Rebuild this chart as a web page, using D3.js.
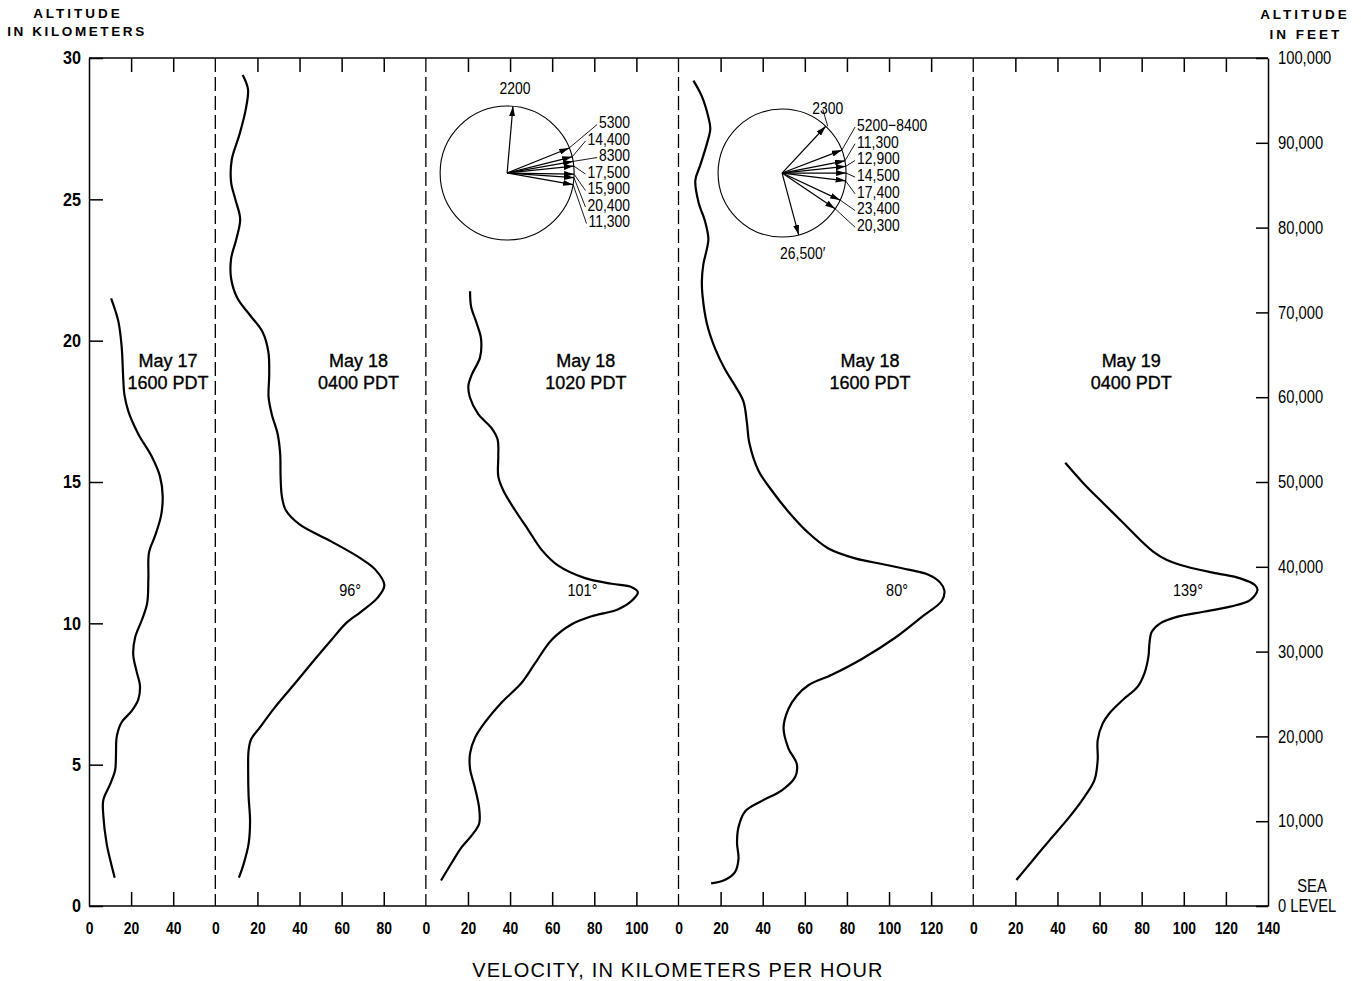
<!DOCTYPE html>
<html>
<head>
<meta charset="utf-8">
<script src="https://cdn.jsdelivr.net/npm/d3@7"></script>
<style>
body { margin: 0; background: #fff; }
text { font-family: "Liberation Sans", Arial, sans-serif; fill: #000; }
</style>
</head>
<body>
<div id="chart-area"></div>
<script>
// velocity range of each panel (km/h), left to right
var panelMax = [60, 100, 120, 140, 140]
var panelTitles = [["May 17", "1600 PDT"], ["May 18", "0400 PDT"], ["May 18", "1020 PDT"],
                   ["May 18", "1600 PDT"], ["May 19", "0400 PDT"]]
var peakDirs = ["", "96°", "101°", "80°", "139°"]
var altTicks = [0, 5, 10, 15, 20, 25, 30]
var feetTicks = [0, 10000, 20000, 30000, 40000, 50000, 60000, 70000, 80000, 90000, 100000]

// profiles: [altitude km, velocity km/h]
var may17_1600 = [[21.5,10.5],[20.7,13.9],[19.8,15.5],[18.6,16.3],[18.1,16.8],[17.5,18.7],[16.7,23.4],
  [15.9,29.8],[15.2,33.7],[14.5,35],[13.8,34.2],[13.1,31.4],[12.5,28.5],[11.6,28.2],[10.7,27.6],[10.1,25],
  [9.5,21.9],[8.9,21],[8.3,22.6],[7.8,24.2],[7.3,23.4],[6.9,20.3],[6.5,15.5],[6,13.2],[5.3,12.8],[4.8,12.4],
  [4.3,10],[3.75,6.8],[3.2,6.8],[2.2,8.4],[1.5,10.5],[1,12.2]]
var may18_0400 = [[29.4,13],[28.9,15.5],[28.2,14.5],[27.3,11.5],[26.4,7.8],[25.6,7.5],[25,9.5],[24.3,11.8],
  [23.6,10],[22.9,7.5],[22.2,7.5],[21.5,10.5],[20.9,16.5],[20.3,22.5],[19.6,25.2],[18.8,25.6],[18,25.3],
  [17.4,26.8],[16.7,29.6],[16,30.8],[15.2,31],[14.5,31.6],[14,33.5],[13.5,40],[12.9,55],[12.3,69],[11.9,76],
  [11.35,80.3],[10.9,77],[10.4,69],[10,62],[9.4,55],[8.7,47],[7.8,37],[7,28],[6.3,21],[5.9,17],[5.5,15.8],
  [4.8,15.6],[3.9,15.8],[3,16.5],[2.2,15.8],[1.5,13.5],[1,11.2]]
var may18_1020 = [[21.75,21],[21.2,21.5],[20.6,24.2],[20.07,26.2],[19.4,25.7],[18.8,21.8],[18.4,20.2],
  [18,20.9],[17.4,24.9],[16.9,31.3],[16.5,34.1],[15.9,34.4],[15.2,34.4],[14.7,36.8],[14,42.4],[13.3,48.7],
  [12.6,55],[12.04,62.9],[11.6,75.6],[11.4,88.3],[11.28,97.8],[11.1,100.7],[10.8,97.8],[10.5,91.4],
  [10.25,78.8],[9.97,69.3],[9.42,59.8],[8.59,51.9],[7.9,45.5],[7.2,36],[6.5,28.1],[5.96,23.4],[5.4,21],
  [4.85,21],[4.16,23.4],[3.47,25.3],[2.91,25.3],[2.5,21.8],[2.09,17.1],[1.53,12.3],[0.9,7.2]]
var may18_1600 = [[29.2,7.1],[28.64,11.1],[27.9,14.2],[27.5,15.1],[26.97,13.5],[26.2,10.3],[25.67,8],
  [24.9,9.5],[24.2,12.7],[23.6,14.2],[23.25,13.5],[22.7,11.8],[22.1,11.1],[21.6,11.4],[20.6,13.5],
  [19.7,17.5],[18.97,22.2],[18.4,26.9],[17.86,30.8],[17.1,32.5],[16.4,33.6],[15.4,38],[14.7,44.3],
  [13.95,52.2],[13.2,61.7],[12.65,71.2],[12.3,83.9],[12.1,96.6],[11.9,109.2],[11.72,118.7],[11.44,124.3],
  [11.16,126.3],[10.8,125.1],[10.23,115.6],[9.49,102.9],[8.74,87.1],[8.18,72.8],[7.81,61.7],[7.44,56.2],
  [6.97,52.2],[6.3,49.9],[5.58,52.2],[5.02,56.2],[4.56,55.4],[4.09,49.1],[3.72,39.6],[3.35,31.7],
  [2.79,28.5],[2.23,27.8],[1.68,28.5],[1.21,26.9],[0.93,22.2],[0.8,15.5]]
var may19_0400 = [[15.68,43.7],[14.95,52.4],[14.24,61.9],[13.54,71.4],[12.95,79.3],[12.53,85.6],
  [12.24,92],[12,101.5],[11.77,115.7],[11.59,126.8],[11.35,133.9],[11.18,135],[10.82,131.5],[10.59,122],
  [10.41,109.4],[10.23,96.7],[10,88.8],[9.7,84.8],[9.29,83.7],[8.82,83.2],[8.23,81.3],[7.76,78.1],
  [7.29,71],[6.82,64.7],[6.46,61.5],[5.87,59.1],[5.16,59.1],[4.46,57.6],[3.87,52.9],[3.16,45.8],
  [2.33,36.3],[1.63,28.4],[0.92,20.5]]
var profiles = [may17_1600, may18_0400, may18_1020, may18_1600, may19_0400]

// wind directions (degrees from north) at altitudes in feet
var rose1Labels = ["2200", "5300", "14,400", "8300", "17,500", "15,900", "20,400", "11,300"]
var rose1Dirs = [5, 68, 76, 80, 84, 91, 94, 100]
var rose2Labels = ["2300", "5200\u22128400", "11,300", "12,900", "14,500", "17,400", "23,400", "20,300", "26,500\u2032"]
var rose2Dirs = [43, 69, 79, 84, 90, 97, 115, 124, 165]

var margin = { left: 89, right: 93, top: 58, bottom: 75 }
var width = 1361 - margin.left - margin.right,
    height = 981 - margin.top - margin.bottom

var offsets = []
panelMax.reduce((acc, m) => { offsets.push(acc); return acc + m }, 0)
var total = d3.sum(panelMax)

// squeeze text horizontally round its anchor (no condensed face installed)
function condense(sel, s) {
    sel.each(function() {
        var t = d3.select(this), x0 = +t.attr("x") || 0
        t.attr("transform", "translate(" + x0 * (1 - s) + ",0) scale(" + s + ",1)")
    })
}

var svg = d3.select("#chart-area").append("svg")
    .attr("width", 1361)
    .attr("height", 981)
svg.append("defs").append("marker")
    .attr("id", "ah")
    .attr("viewBox", "0 0 10 6")
    .attr("refX", 10).attr("refY", 3)
    .attr("markerWidth", 10).attr("markerHeight", 6)
    .attr("markerUnits", "userSpaceOnUse")
    .attr("orient", "auto")
    .append("path").attr("d", "M0,0L10,3L0,6z").attr("fill", "#000")

var g = svg.append("g")
    .attr("transform", "translate(" + margin.left + "," + margin.top + ")")

var x = d3.scaleLinear().domain([0, total]).range([0, width])
var y = d3.scaleLinear().domain([0, 30]).range([height, 0])
var yFeet = d3.scaleLinear().domain([0, 100000]).range([height, 0])

// frame
g.append("line").attr("x1", 0).attr("x2", width).attr("y1", 0).attr("y2", 0)
    .attr("stroke", "#000").attr("stroke-width", 1.5)
g.append("line").attr("x1", 0).attr("x2", width).attr("y1", height).attr("y2", height)
    .attr("stroke", "#000").attr("stroke-width", 1.5)

// panel separators
offsets.slice(1).forEach(o => {
    g.append("line")
        .attr("x1", x(o)).attr("x2", x(o))
        .attr("y1", 0).attr("y2", height)
        .attr("stroke", "#000").attr("stroke-width", 1.3)
        .attr("stroke-dasharray", "14,5")
})

// per-panel velocity axes
panelMax.forEach((m, i) => {
    var ps = d3.scaleLinear().domain([0, m]).range([x(offsets[i]), x(offsets[i] + m)])
    var vals = d3.range(0, m + 1, 20)
    var last = i === panelMax.length - 1
    var bottom = g.append("g")
        .attr("transform", "translate(0," + height + ")")
        .call(d3.axisBottom(ps).tickValues(vals).tickSize(-14).tickSizeOuter(0).tickPadding(16)
            .tickFormat(d => (d === m && !last) ? "" : d))
    bottom.select(".domain").remove()
    bottom.selectAll(".tick line")
        .attr("stroke-width", 1.5)
        .attr("display", d => (d === 0 || d === m) ? "none" : null)
    bottom.selectAll("text")
        .style("font-family", '"Liberation Sans", Arial, sans-serif')
        .style("font-size", "17px").style("font-weight", "bold")
        .call(condense, 0.82)

    var top = g.append("g")
        .call(d3.axisTop(ps).tickValues(vals.filter(d => d > 0 && d < m)).tickSize(-14).tickSizeOuter(0).tickFormat(""))
    top.select(".domain").remove()
    top.selectAll(".tick line").attr("stroke-width", 1.5)
})

// altitude axes
var left = g.append("g")
    .call(d3.axisLeft(y).tickValues(altTicks).tickSize(-14).tickSizeOuter(0).tickPadding(8))
left.select(".domain").attr("stroke-width", 1.5)
left.selectAll(".tick line").attr("stroke-width", 1.5)
left.selectAll("text")
    .style("font-family", '"Liberation Sans", Arial, sans-serif')
    .style("font-size", "18px").style("font-weight", "bold")
    .call(condense, 0.9)

var right = g.append("g")
    .attr("transform", "translate(" + width + ",0)")
    .call(d3.axisRight(yFeet).tickValues(feetTicks).tickSize(-12).tickSizeOuter(0).tickPadding(10)
        .tickFormat(d => d === 0 ? "0 LEVEL" : d3.format(",")(d)))
right.select(".domain").attr("stroke-width", 1.5)
right.selectAll(".tick line").attr("stroke-width", 1.5)
right.selectAll("text")
    .style("font-family", '"Liberation Sans", Arial, sans-serif')
    .style("font-size", "18px")
    .call(condense, 0.82)
right.append("text")
    .attr("x", 44).attr("y", yFeet(0) - 14)
    .attr("text-anchor", "middle")
    .style("font-size", "18px")
    .text("SEA")
    .call(condense, 0.82)

// axis titles
svg.append("text").attr("x", 78).attr("y", 17.5).attr("text-anchor", "middle")
    .attr("font-size", "13.5px").attr("font-weight", "bold").attr("letter-spacing", "3px")
    .text("ALTITUDE")
svg.append("text").attr("x", 77).attr("y", 36).attr("text-anchor", "middle")
    .attr("font-size", "13.5px").attr("font-weight", "bold").attr("letter-spacing", "2.6px")
    .text("IN KILOMETERS")
svg.append("text").attr("x", 1305).attr("y", 18.5).attr("text-anchor", "middle")
    .attr("font-size", "13.5px").attr("font-weight", "bold").attr("letter-spacing", "3px")
    .text("ALTITUDE")
svg.append("text").attr("x", 1306).attr("y", 38.5).attr("text-anchor", "middle")
    .attr("font-size", "13.5px").attr("font-weight", "bold").attr("letter-spacing", "3px")
    .text("IN FEET")
svg.append("text").attr("x", 678).attr("y", 977).attr("text-anchor", "middle")
    .attr("font-size", "20px").attr("letter-spacing", "1.2px")
    .text("VELOCITY, IN KILOMETERS PER HOUR")

// profiles
var line = d3.line().curve(d3.curveCatmullRom.alpha(0.5))
profiles.forEach((p, i) => {
    g.append("path")
        .datum(p)
        .attr("fill", "none")
        .attr("stroke", "#000")
        .attr("stroke-width", 2.2)
        .attr("stroke-linejoin", "round")
        .attr("d", line.x(d => x(offsets[i] + d[1])).y(d => y(d[0])))
})

// panel titles
var titleV = [37.5, 68, 76, 91, 75]
panelTitles.forEach((t, i) => {
    var tx = x(offsets[i] + titleV[i])
    t.forEach((s, j) => {
        g.append("text")
            .attr("x", tx).attr("y", 309 + j * 22)
            .attr("text-anchor", "middle")
            .attr("font-size", "18px")
            .attr("stroke", "#000").attr("stroke-width", 0.35)
            .text(s)
    })
})

// peak directions
var peakPos = [null, [64, 11.18], [74.4, 11.18], [103.8, 11.18], [102, 11.18]]
peakDirs.forEach((s, i) => {
    if (!s) return
    g.append("text")
        .attr("x", x(offsets[i] + peakPos[i][0]))
        .attr("y", y(peakPos[i][1]))
        .attr("dy", "0.35em")
        .attr("text-anchor", "middle")
        .attr("font-size", "17px")
        .text(s)
        .call(condense, 0.85)
})

// wind direction roses
function rose(panel, cv, calt, r, labels, dirs, opts) {
    var cx = x(offsets[panel] + cv), cy = y(calt), s = 0.82
    var rg = g.append("g")
    rg.append("circle").attr("cx", cx).attr("cy", cy).attr("r", r)
        .attr("fill", "none").attr("stroke", "#000").attr("stroke-width", 1.1)
    var tips = dirs.map(a => {
        var t = a * Math.PI / 180
        return [cx + r * Math.sin(t), cy - r * Math.cos(t)]
    })
    tips.forEach(tp => {
        rg.append("line")
            .attr("x1", cx).attr("y1", cy).attr("x2", tp[0]).attr("y2", tp[1])
            .attr("stroke", "#000").attr("stroke-width", 1.2)
            .attr("marker-end", "url(#ah)")
    })
    labels.forEach((lab, i) => {
        var tp = tips[i]
        if (i === 0) {
            rg.append("text").attr("x", tp[0] + 2).attr("y", tp[1] - 12)
                .attr("text-anchor", "middle")
                .style("font-size", "17px")
                .text(lab)
                .call(condense, s)
            if (opts.topLeader)
                rg.append("line").attr("x1", tp[0] - 3).attr("y1", tp[1] - 17).attr("x2", tp[0] + 2).attr("y2", tp[1])
                    .attr("stroke", "#000").attr("stroke-width", 0.9)
            return
        }
        if (opts.bottomLast && i === labels.length - 1) {
            rg.append("text").attr("x", tp[0] + 4).attr("y", tp[1] + 24)
                .attr("text-anchor", "middle")
                .style("font-size", "17px")
                .text(lab)
                .call(condense, s)
            return
        }
        var ly = cy + opts.listY + (i - 1) * opts.listStep
        var t = rg.append("text").attr("x", cx + opts.listX).attr("y", ly)
            .attr("dy", "0.35em")
            .attr("text-anchor", opts.anchor)
            .style("font-size", "17px")
            .text(lab)
        var w = t.node().getComputedTextLength() * s
        t.call(condense, s)
        var lx = opts.anchor === "end" ? cx + opts.listX - w - 2 : cx + opts.listX - 2
        rg.append("line").attr("x1", lx).attr("y1", ly + 2).attr("x2", tp[0]).attr("y2", tp[1])
            .attr("stroke", "#000").attr("stroke-width", 0.9)
    })
}
rose(2, 38.6, 25.93, 67, rose1Labels, rose1Dirs,
    { listX: 123, listY: -50.5, listStep: 16.5, anchor: "end", topLeader: false, bottomLast: false })
rose(3, 49.2, 25.93, 64, rose2Labels, rose2Dirs,
    { listX: 75, listY: -48, listStep: 16.7, anchor: "start", topLeader: true, bottomLast: true })
</script>
</body>
</html>
